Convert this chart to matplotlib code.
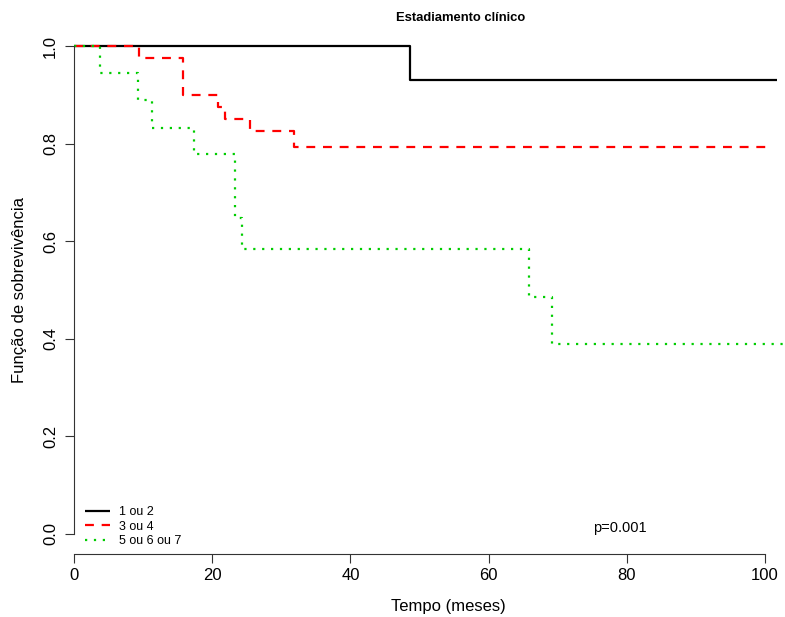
import matplotlib
matplotlib.use("Agg")
from matplotlib import pyplot as plt

plt.rcParams['font.family'] = ['Liberation Sans', 'DejaVu Sans']

# Kaplan-Meier curves: event times (months) and survival after each event
labels = ["1 ou 2", "3 ou 4", "5 ou 6 ou 7"]

t_stage12 = [48.6]
s_stage12 = [0.930]
end_stage12 = 101.7

t_stage34 = [9.4, 15.8, 20.9, 21.8, 25.5, 31.8]
s_stage34 = [0.975, 0.900, 0.875, 0.850, 0.825, 0.794]
end_stage34 = 100.6

t_stage567 = [3.8, 9.2, 11.3, 17.4, 23.3, 24.3, 65.9, 69.2]
s_stage567 = [0.944, 0.889, 0.833, 0.778, 0.648, 0.583, 0.486, 0.389]
end_stage567 = 103.0

p_text = "p=0.001"
x_ticks = [0, 20, 40, 60, 80, 100]
y_ticks = [0.0, 0.2, 0.4, 0.6, 0.8, 1.0]


def km_steps(times, surv, end):
    x = [0] + list(times) + [end]
    y = [1.0] + list(surv) + [surv[-1]]
    return x, y


fig = plt.figure(figsize=(7.85, 6.17), dpi=100)
ax = fig.add_axes([74 / 785, (617 - 553.5) / 617, (785 - 74) / 785, 527 / 617])

curves = [
    (t_stage12, s_stage12, end_stage12, 'black', '-', None),
    (t_stage34, s_stage34, end_stage34, '#FF0000', '--', (4, 3.5)),
    (t_stage567, s_stage567, end_stage567, '#00CD00', ':', (1, 3)),
]
for (t, s, e, col, ls, dash), lab in zip(curves, labels):
    x, y = km_steps(t, s, e)
    line, = ax.step(x, y, where='post', color=col, lw=1.6, label=lab,
                    solid_capstyle='butt', dash_capstyle='butt')
    if dash is not None:
        line.set_dashes(dash)

ax.set_xlim(0, 711 / 6.91)
ax.set_ylim(-0.04, 1.04)

# R-like axes
for side in ['top', 'right']:
    ax.spines[side].set_visible(False)
ax.spines['left'].set_bounds(0, 1)
ax.spines['bottom'].set_bounds(0, 100)
for side in ['left', 'bottom']:
    ax.spines[side].set_linewidth(0.8)
    ax.spines[side].set_color('#333333')

ax.set_xticks(x_ticks)
ax.set_yticks(y_ticks)
ax.set_yticklabels([f"{v:.1f}" for v in y_ticks], rotation=90, va='center')
ax.tick_params(axis='both', direction='out', length=6.5, width=0.8,
               colors='#333333', labelsize=12, labelcolor='black')
ax.tick_params(axis='y', pad=5)
ax.tick_params(axis='x', pad=4)

fig.text(448 / 785, 1 - 607 / 617, "Tempo (meses)", ha='center', va='center',
         fontsize=12)
fig.text(20 / 785, 1 - 290 / 617, "Função de sobrevivência", ha='center',
         va='center', rotation=90, fontsize=12)
fig.text(461 / 785, 1 - 18 / 617, "Estadiamento clínico", ha='center',
         va='center', fontsize=9.4, fontweight='bold')

ax.legend(loc='lower left', bbox_to_anchor=(11 / 711, 0.012), frameon=False,
          fontsize=9, handlelength=2.0, handletextpad=0.7, labelspacing=0.2,
          borderaxespad=0, borderpad=0)

fig.text(620 / 785, 1 - 528 / 617, p_text, fontsize=10.5, ha='center',
         va='center')

fig.savefig('out.png', dpi=100)
